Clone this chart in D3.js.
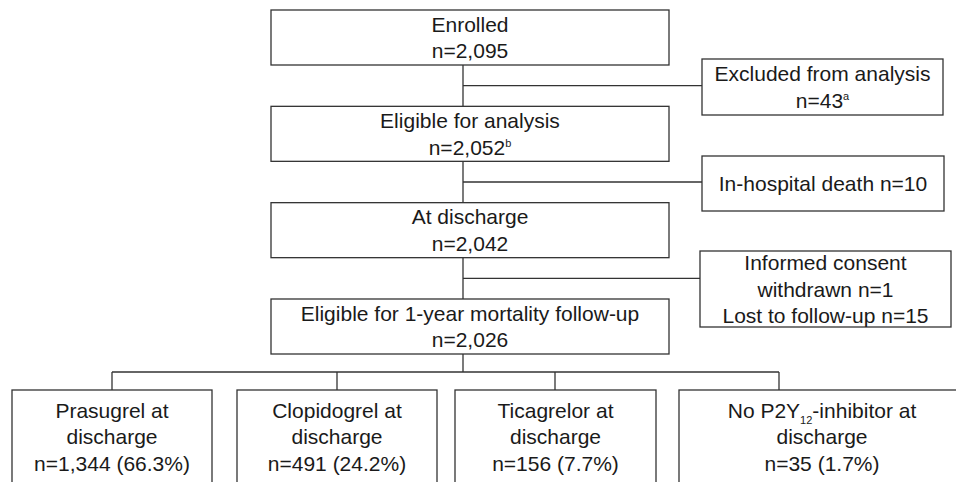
<!DOCTYPE html>
<html>
<head>
<meta charset="utf-8">
<script src="https://cdn.jsdelivr.net/npm/d3@7"></script>
<style>
  body { margin: 0; background: #fff; }
  svg text { font-family: "Liberation Sans", Arial, sans-serif; font-size: 21px; fill: #1a1a1a; }
</style>
</head>
<body>
<div id="chart"></div>
<script>
// flow steps down the main column
var mainSteps = ["Enrolled", "Eligible for analysis", "At discharge", "Eligible for 1-year mortality follow-up"];
var mainCounts = ["n=2,095", "n=2,052^{b}", "n=2,042", "n=2,026"];

// exclusions between steps
var exclusions = [
    ["Excluded from analysis", "n=43^{a}"],
    ["In-hospital death n=10"],
    ["Informed consent", "withdrawn n=1", "Lost to follow-up n=15"]
];

// treatment groups at the bottom
var groups = ["Prasugrel at", "Clopidogrel at", "Ticagrelor at", "No P2Y_{12}-inhibitor at"];
var groupCounts = ["n=1,344", "n=491", "n=156", "n=35"];
var groupPct = ["66.3%", "24.2%", "7.7%", "1.7%"];

var width = 956, height = 482;
var lineH = 26.5;

var svg = d3.select("#chart")
    .append("svg")
    .attr("width", width)
    .attr("height", height);

var y = d3.scalePoint().domain(mainSteps).range([10, 299]);
var boxH = 55;
var mainX0 = 271, mainX1 = 669, spineX = 463;

// side boxes (left, right, top, height)
var sideBox = [
    { x0: 702, x1: 943, top: 59, h: 56 },
    { x0: 702, x1: 944, top: 156, h: 55 },
    { x0: 700, x1: 951, top: 251, h: 76 }
];

// bottom boxes
var bottomBox = [
    { x0: 12, x1: 212 },
    { x0: 237, x1: 437 },
    { x0: 455, x1: 656 },
    { x0: 679, x1: 965 }
];
var bottomTop = 390, bottomH = 93, branchY = 372;

function addLine(g, str, x, yy) {
    var t = g.append("text").attr("x", x).attr("y", yy).attr("text-anchor", "middle");
    var parts = str.split(/(\^\{[^}]*\}|_\{[^}]*\})/);
    var off = 0;
    parts.forEach(function (p) {
        if (!p) return;
        if (p[0] == "^" || p[0] == "_") {
            var d = p[0] == "^" ? -8 : 6;
            t.append("tspan").attr("dy", d - off).style("font-size", "11px").text(p.slice(2, -1));
            off = d;
        } else {
            t.append("tspan").attr("dy", -off).text(p);
            off = 0;
        }
    });
}

function addBlock(g, lines, cx, cy) {
    var n = lines.length;
    lines.forEach(function (l, i) {
        addLine(g, l, cx, cy + (i - (n - 1) / 2) * lineH + 7.5);
    });
}

var lines = svg.append("g")
    .attr("stroke", "#333")
    .attr("stroke-width", 1.3)
    .attr("fill", "none");

// spine
lines.append("line")
    .attr("x1", spineX).attr("x2", spineX)
    .attr("y1", y(mainSteps[0]) + boxH).attr("y2", branchY);

// side connectors
exclusions.forEach(function (d, i) {
    var ym = (y(mainSteps[i]) + boxH + y(mainSteps[i + 1])) / 2;
    lines.append("line")
        .attr("x1", spineX).attr("x2", sideBox[i].x0)
        .attr("y1", ym).attr("y2", ym);
});

// bottom branch
var drops = bottomBox.map(function (b) { return b.x0 + 100; });
lines.append("line")
    .attr("x1", d3.min(drops)).attr("x2", d3.max(drops))
    .attr("y1", branchY).attr("y2", branchY);
drops.forEach(function (x) {
    lines.append("line")
        .attr("x1", x).attr("x2", x)
        .attr("y1", branchY).attr("y2", bottomTop);
});

var boxes = svg.append("g");

mainSteps.forEach(function (s, i) {
    boxes.append("rect")
        .attr("x", mainX0).attr("y", y(s))
        .attr("width", mainX1 - mainX0).attr("height", boxH)
        .attr("fill", "#fff").attr("stroke", "#333").attr("stroke-width", 1.3);
    addBlock(boxes, [s, mainCounts[i]], (mainX0 + mainX1) / 2, y(s) + boxH / 2);
});

exclusions.forEach(function (d, i) {
    var b = sideBox[i];
    boxes.append("rect")
        .attr("x", b.x0).attr("y", b.top)
        .attr("width", b.x1 - b.x0).attr("height", b.h)
        .attr("fill", "#fff").attr("stroke", "#333").attr("stroke-width", 1.3);
    addBlock(boxes, d, (b.x0 + b.x1) / 2, b.top + b.h / 2);
});

groups.forEach(function (gname, i) {
    var b = bottomBox[i];
    boxes.append("rect")
        .attr("x", b.x0).attr("y", bottomTop)
        .attr("width", b.x1 - b.x0).attr("height", bottomH)
        .attr("fill", "#fff").attr("stroke", "#333").attr("stroke-width", 1.3);
    var cx = i == 3 ? 822 : (b.x0 + b.x1) / 2;
    addBlock(boxes, [gname, "discharge", groupCounts[i] + " (" + groupPct[i] + ")"], cx, bottomTop + bottomH / 2);
});
</script>
</body>
</html>
